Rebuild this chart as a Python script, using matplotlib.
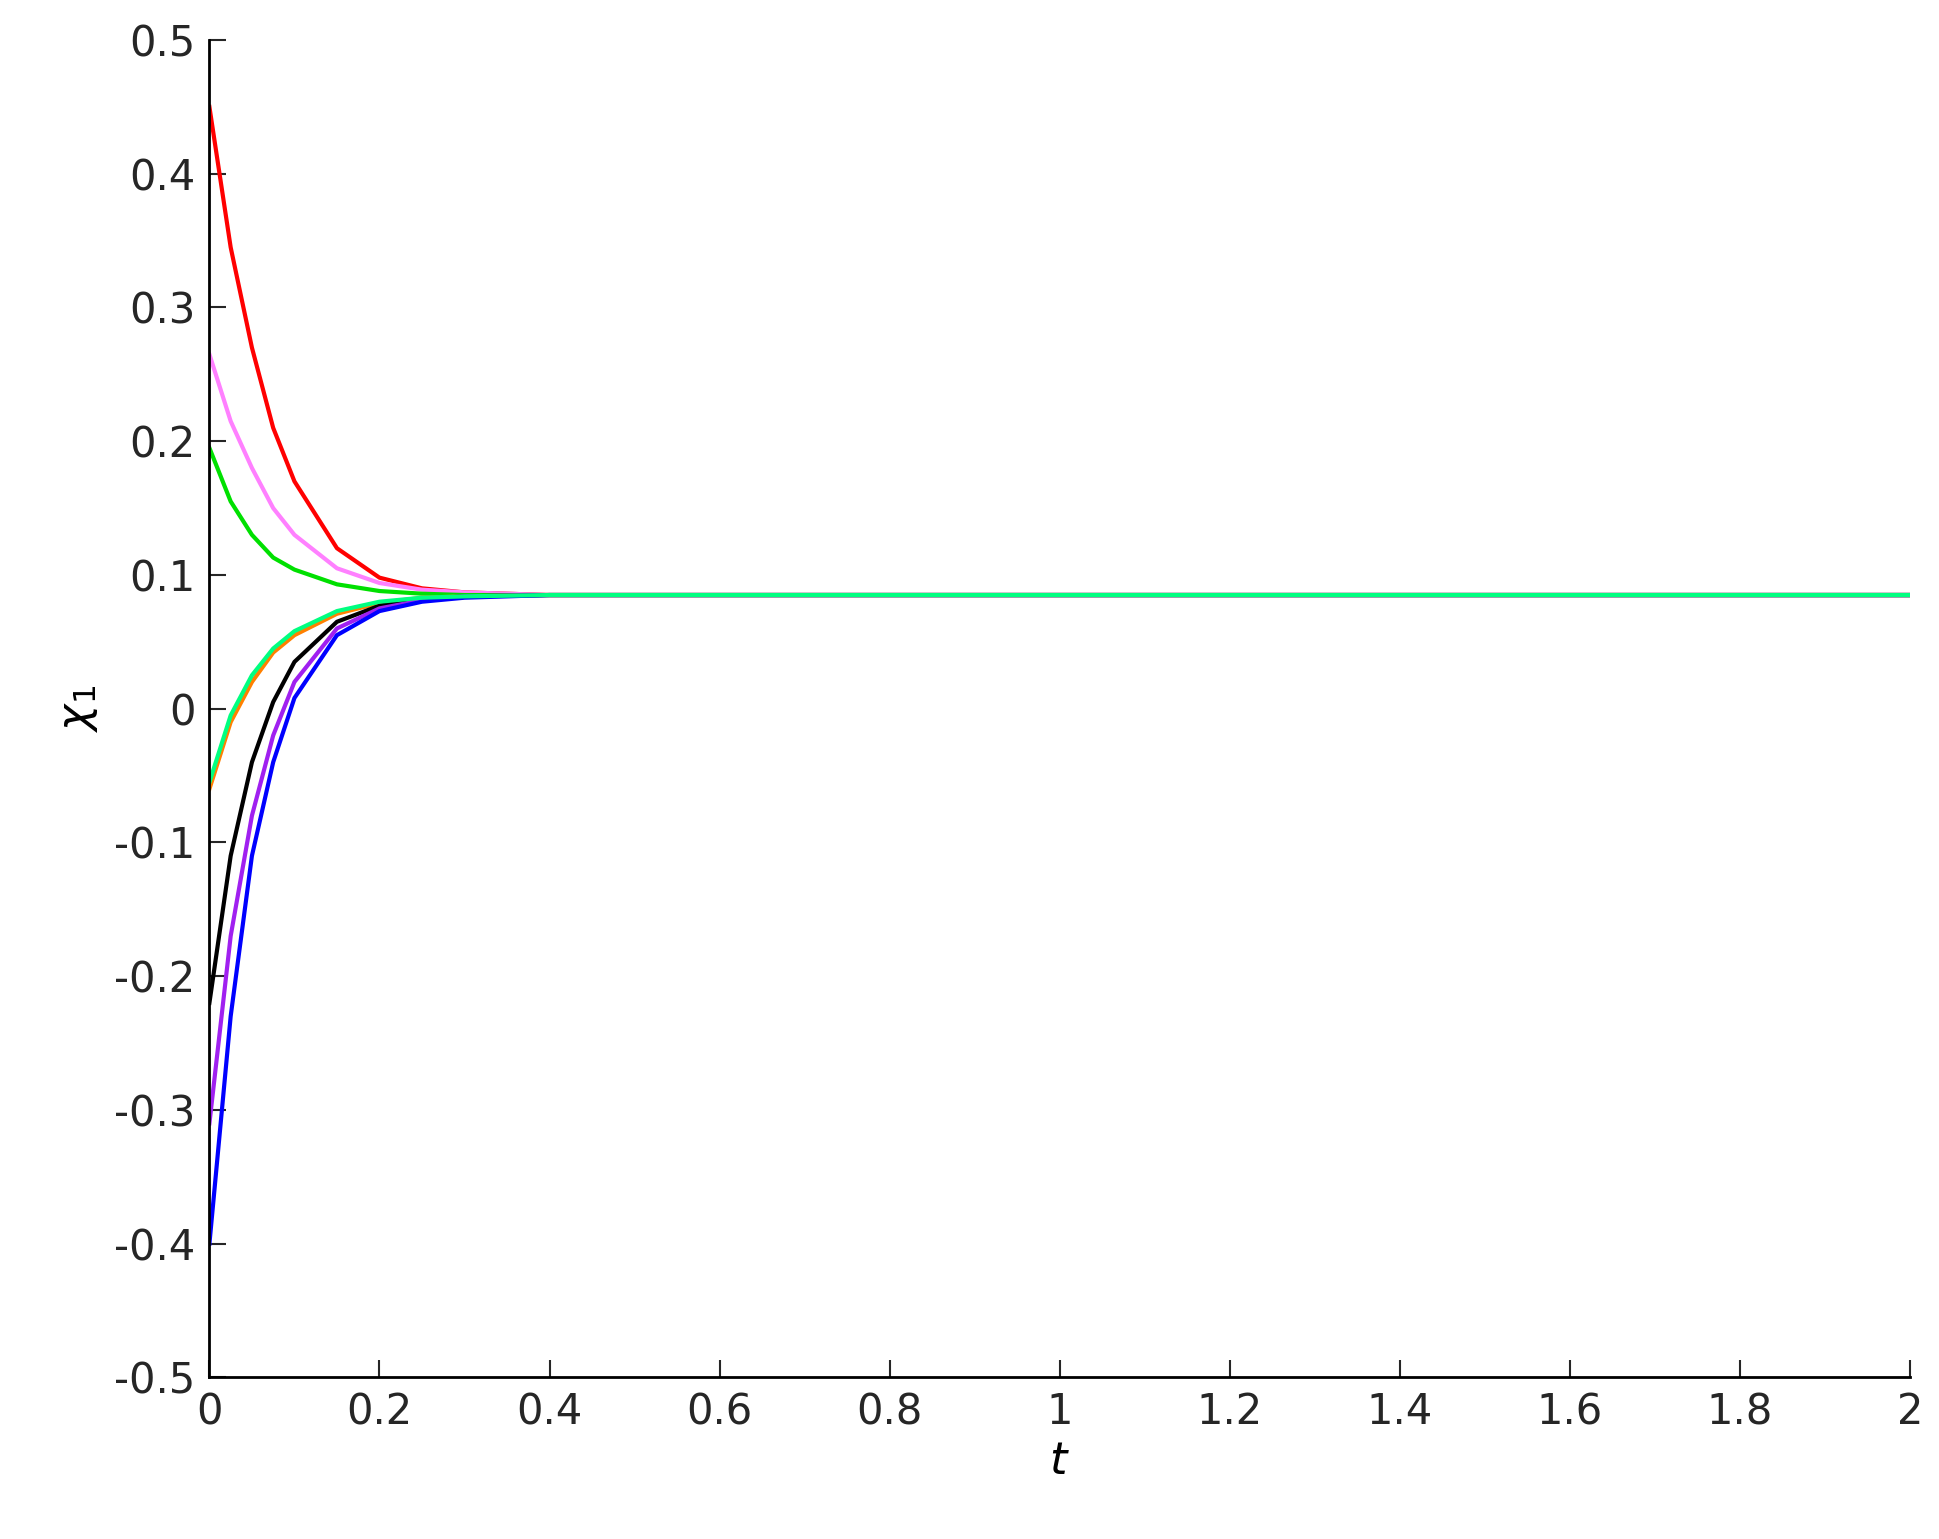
import matplotlib
matplotlib.use("Agg")
import matplotlib.pyplot as plt
import numpy as np

t = [0, 0.025, 0.05, 0.075, 0.1, 0.15, 0.2, 0.25, 0.3, 0.4, 2.0]
red = [0.45, 0.345, 0.27, 0.21, 0.17, 0.12, 0.098, 0.09, 0.087, 0.085, 0.085]
violet = [0.265, 0.215, 0.18, 0.15, 0.13, 0.105, 0.094, 0.089, 0.087, 0.085, 0.085]
green = [0.195, 0.155, 0.13, 0.113, 0.104, 0.093, 0.088, 0.086, 0.085, 0.085, 0.085]
orange = [-0.06, -0.01, 0.02, 0.042, 0.055, 0.071, 0.079, 0.083, 0.084, 0.085, 0.085]
black = [-0.22, -0.11, -0.04, 0.005, 0.035, 0.065, 0.077, 0.082, 0.084, 0.085, 0.085]
purple = [-0.31, -0.17, -0.08, -0.02, 0.02, 0.06, 0.075, 0.081, 0.084, 0.085, 0.085]
blue = [-0.40, -0.23, -0.11, -0.04, 0.008, 0.055, 0.073, 0.080, 0.083, 0.085, 0.085]
spring = [-0.055, -0.005, 0.025, 0.045, 0.058, 0.073, 0.080, 0.083, 0.084, 0.085, 0.085]

series = [(red, '#ff0000'), (violet, '#ff80ff'), (green, '#00e000'),
          (orange, '#ff8000'), (black, '#000000'), (purple, '#a020f0'),
          (blue, '#0000ff'), (spring, '#00ff80')]

fig = plt.figure(figsize=(19.39, 15.39), dpi=100)
ax = fig.add_axes([0.108, 0.105, 0.877, 0.869])
for y, c in series:
    ax.plot(t, y, color=c, lw=3)
ax.set_xlim(0, 2)
ax.set_ylim(-0.5, 0.5)
ax.set_xticks(np.arange(0, 2.01, 0.2))
ax.set_xticklabels(['0', '0.2', '0.4', '0.6', '0.8', '1', '1.2', '1.4', '1.6', '1.8', '2'])
ax.set_yticks(np.arange(-0.5, 0.51, 0.1))
ax.set_yticklabels(['-0.5', '-0.4', '-0.3', '-0.2', '-0.1', '0', '0.1', '0.2', '0.3', '0.4', '0.5'])
ax.spines['top'].set_visible(False)
ax.spines['right'].set_visible(False)
for s in ['left', 'bottom']:
    ax.spines[s].set_linewidth(2)
ax.tick_params(direction='in', length=12, width=1.5, labelsize=30, colors='#262626', pad=10)
ax.set_xlabel(r'$t$', fontsize=32, labelpad=5)
ax.set_ylabel(r'$\chi_1$', fontsize=32, labelpad=10)
fig.savefig('out.png', dpi=100)
